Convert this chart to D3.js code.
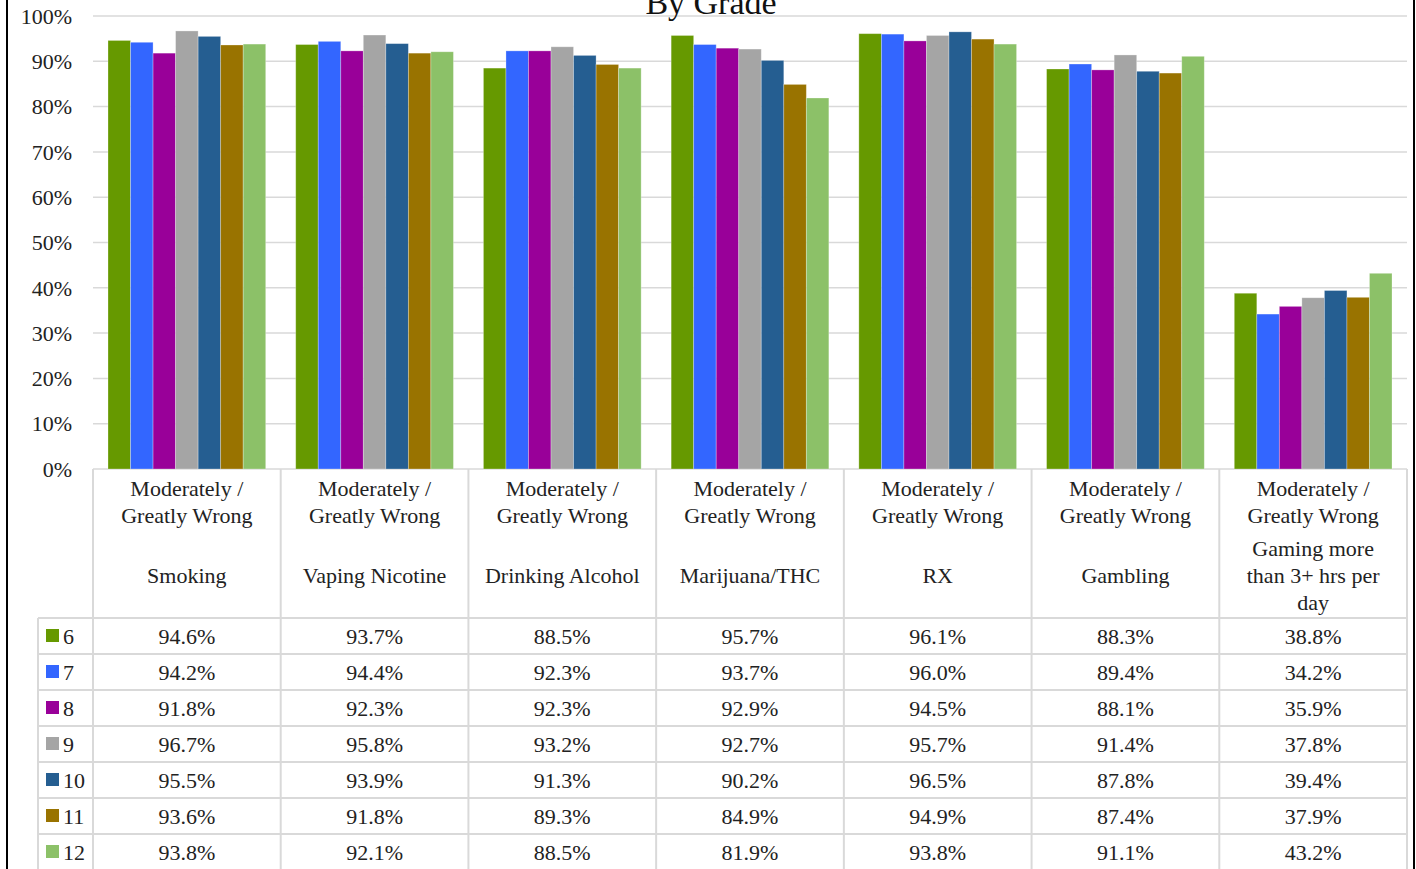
<!DOCTYPE html>
<html>
<head>
<meta charset="utf-8">
<script src="https://cdn.jsdelivr.net/npm/d3@7"></script>
<style>
  body { margin: 0; background: #fff; }
  svg { display: block; font-family: "Liberation Serif", "DejaVu Serif", serif; }
</style>
</head>
<body>
<div id="chart"></div>
<script>
// chart data
var categories = ["Smoking", "Vaping Nicotine", "Drinking Alcohol", "Marijuana/THC", "RX", "Gambling", "Gaming more than 3+ hrs per day"];
var categoryLines = [["Smoking"], ["Vaping Nicotine"], ["Drinking Alcohol"], ["Marijuana/THC"], ["RX"], ["Gambling"], ["Gaming more", "than 3+ hrs per", "day"]];
var grades = ["6", "7", "8", "9", "10", "11", "12"];
var gradeColors = ["#669900", "#3366ff", "#990099", "#a5a5a5", "#255e91", "#997300", "#8cc168"];
var grade6 = [94.6, 93.7, 88.5, 95.7, 96.1, 88.3, 38.8];
var grade7 = [94.2, 94.4, 92.3, 93.7, 96.0, 89.4, 34.2];
var grade8 = [91.8, 92.3, 92.3, 92.9, 94.5, 88.1, 35.9];
var grade9 = [96.7, 95.8, 93.2, 92.7, 95.7, 91.4, 37.8];
var grade10 = [95.5, 93.9, 91.3, 90.2, 96.5, 87.8, 39.4];
var grade11 = [93.6, 91.8, 89.3, 84.9, 94.9, 87.4, 37.9];
var grade12 = [93.8, 92.1, 88.5, 81.9, 93.8, 91.1, 43.2];
var yTicks = [0, 10, 20, 30, 40, 50, 60, 70, 80, 90, 100];

var seriesValues = [grade6, grade7, grade8, grade9, grade10, grade11, grade12];

var svgWidth = 1416, svgHeight = 869;
var plot = { left: 93, right: 1407, top: 16, bottom: 469 };
var tableTop = 618, rowH = 36, legendLeft = 38;
var gridColor = "#d9d9d9";
var fontSize = "22px";

var svg = d3.select("#chart").append("svg")
  .attr("width", svgWidth)
  .attr("height", svgHeight);

// scales
var x0 = d3.scaleBand()
  .domain(categories)
  .range([plot.left, plot.right])
  .paddingInner(0)
  .paddingOuter(0);

var x1 = d3.scaleBand()
  .domain(grades)
  .range([15, x0.bandwidth() - 15])
  .padding(0);

var y = d3.scaleLinear()
  .domain([0, 100])
  .range([plot.bottom, plot.top]);

// gridlines
svg.append("g")
  .selectAll("line")
  .data(yTicks)
  .enter()
  .append("line")
  .attr("x1", plot.left)
  .attr("x2", plot.right)
  .attr("y1", d => y(d))
  .attr("y2", d => y(d))
  .attr("stroke", gridColor)
  .attr("stroke-width", 1.5);

// y labels
svg.append("g")
  .selectAll("text")
  .data(yTicks)
  .enter()
  .append("text")
  .attr("x", 72)
  .attr("y", d => y(d))
  .attr("dy", "0.35em")
  .attr("text-anchor", "end")
  .attr("font-size", fontSize)
  .attr("fill", "#222")
  .text(d => d + "%");

// title (cut by the top edge, as in the source)
svg.append("text")
  .attr("x", 711)
  .attr("y", 14)
  .attr("text-anchor", "middle")
  .attr("font-size", "34px")
  .attr("fill", "#111")
  .text("By Grade");

// bars
var groups = svg.append("g")
  .selectAll("g")
  .data(categories)
  .enter()
  .append("g")
  .attr("transform", d => `translate(${x0(d)},0)`);

groups.selectAll("rect")
  .data((d, i) => grades.map((g, j) => ({ grade: g, idx: j, value: seriesValues[j][i] })))
  .enter()
  .append("rect")
  .attr("x", d => x1(d.grade))
  .attr("width", x1.bandwidth())
  .attr("y", d => y(d.value))
  .attr("height", d => y(0) - y(d.value))
  .attr("fill", d => gradeColors[d.idx])
  .attr("stroke", "#fff")
  .attr("stroke-opacity", 0.35)
  .attr("stroke-width", 0.8);

// data table
var table = svg.append("g");

// header texts
categories.forEach(function (c, i) {
  var cx = x0(c) + x0.bandwidth() / 2;
  table.append("text")
    .attr("x", cx).attr("y", 488).attr("dy", "0.35em")
    .attr("text-anchor", "middle").attr("font-size", fontSize).attr("fill", "#222")
    .text("Moderately /");
  table.append("text")
    .attr("x", cx).attr("y", 515).attr("dy", "0.35em")
    .attr("text-anchor", "middle").attr("font-size", fontSize).attr("fill", "#222")
    .text("Greatly Wrong");
  var lines = categoryLines[i];
  var startY = 575 - (lines.length - 1) * 27 / 2;
  lines.forEach(function (l, k) {
    table.append("text")
      .attr("x", cx).attr("y", startY + k * 27).attr("dy", "0.35em")
      .attr("text-anchor", "middle").attr("font-size", fontSize).attr("fill", "#222")
      .text(l);
  });
});

// value rows
grades.forEach(function (g, j) {
  var rowY = tableTop + j * rowH + rowH / 2;
  table.append("rect")
    .attr("x", 46).attr("y", rowY - 7)
    .attr("width", 13).attr("height", 13)
    .attr("fill", gradeColors[j]);
  table.append("text")
    .attr("x", 63).attr("y", rowY).attr("dy", "0.35em")
    .attr("font-size", fontSize).attr("fill", "#222")
    .text(g);
  categories.forEach(function (c, i) {
    table.append("text")
      .attr("x", x0(c) + x0.bandwidth() / 2).attr("y", rowY).attr("dy", "0.35em")
      .attr("text-anchor", "middle").attr("font-size", fontSize).attr("fill", "#222")
      .text(seriesValues[j][i].toFixed(1) + "%");
  });
});

// table grid lines
var colEdges = categories.map(c => x0(c)).concat([plot.right]);
colEdges.forEach(function (xx) {
  table.append("line")
    .attr("x1", xx).attr("x2", xx)
    .attr("y1", plot.bottom).attr("y2", svgHeight)
    .attr("stroke", gridColor).attr("stroke-width", 2);
});
table.append("line")
  .attr("x1", legendLeft).attr("x2", legendLeft)
  .attr("y1", tableTop).attr("y2", svgHeight)
  .attr("stroke", gridColor).attr("stroke-width", 2);
d3.range(grades.length).forEach(function (j) {
  table.append("line")
    .attr("x1", legendLeft).attr("x2", plot.right)
    .attr("y1", tableTop + j * rowH).attr("y2", tableTop + j * rowH)
    .attr("stroke", gridColor).attr("stroke-width", 2);
});

// outer frame
svg.append("line").attr("x1", 7).attr("x2", 7).attr("y1", 0).attr("y2", svgHeight)
  .attr("stroke", "#000").attr("stroke-width", 2);
svg.append("line").attr("x1", 1414).attr("x2", 1414).attr("y1", 0).attr("y2", svgHeight)
  .attr("stroke", "#000").attr("stroke-width", 2);
</script>
</body>
</html>
